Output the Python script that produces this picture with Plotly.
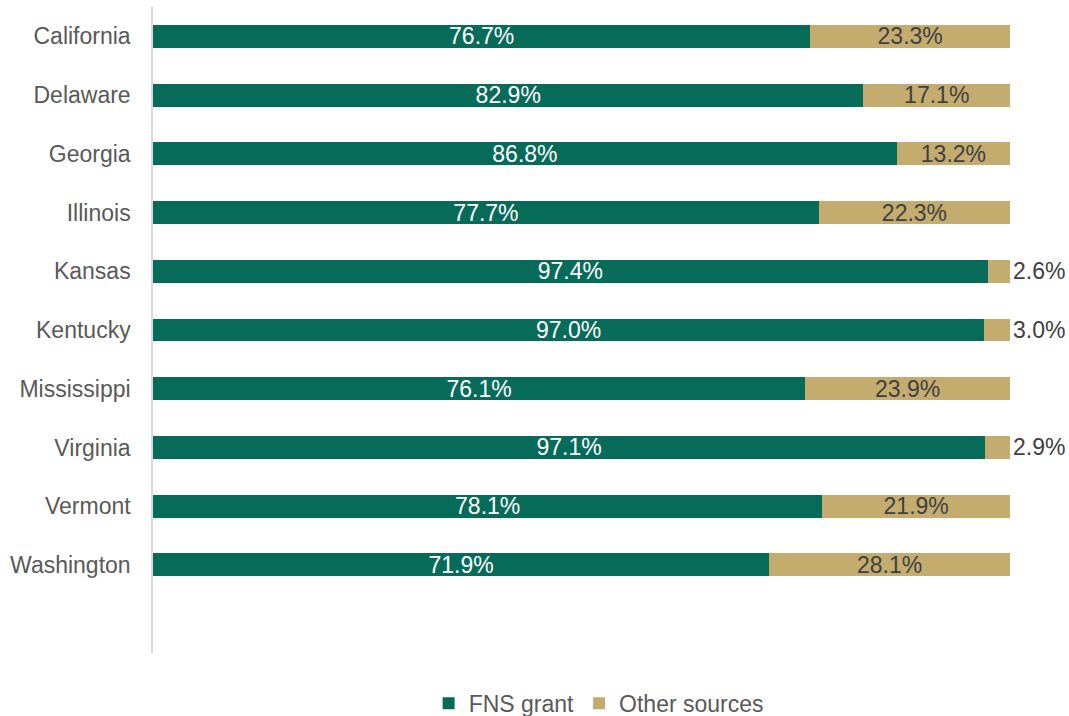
import plotly.graph_objects as go

states = ["California", "Delaware", "Georgia", "Illinois", "Kansas",
          "Kentucky", "Mississippi", "Virginia", "Vermont", "Washington"]
fns_grant = [76.7, 82.9, 86.8, 77.7, 97.4, 97.0, 76.1, 97.1, 78.1, 71.9]
other_sources = [23.3, 17.1, 13.2, 22.3, 2.6, 3.0, 23.9, 2.9, 21.9, 28.1]

GREEN = "#076B5A"
TAN = "#C4AC6F"
GRAY_TEXT = "#595959"
FONT = "Liberation Sans, Arial, sans-serif"
SIZE = 23

pos = list(range(len(states)))

fig = go.Figure()
fig.add_trace(go.Bar(
    y=pos, x=fns_grant, orientation="h", name="FNS grant",
    marker=dict(color=GREEN, line=dict(width=0)),
    width=0.39,
    text=[f"{v:.1f}%" for v in fns_grant],
    textposition="inside", insidetextanchor="middle",
    textfont=dict(color="white", size=SIZE, family=FONT),
    constraintext="none",
))
fig.add_trace(go.Bar(
    y=pos, x=other_sources, orientation="h", name="Other sources",
    marker=dict(color=TAN, line=dict(width=0)),
    width=0.39,
    text=[f"{v:.1f}%" for v in other_sources],
    textposition=["outside" if v < 5 else "inside" for v in other_sources],
    insidetextanchor="middle",
    textfont=dict(color="#404040", size=SIZE, family=FONT),
    constraintext="none",
    cliponaxis=False,
))

fig.update_layout(
    barmode="stack",
    width=1069, height=716,
    margin=dict(l=153, r=59, t=7, b=63, autoexpand=False),
    paper_bgcolor="white", plot_bgcolor="white",
    font=dict(family=FONT, size=SIZE, color=GRAY_TEXT),
    showlegend=True,
    legend=dict(orientation="h", x=0.52, xanchor="center", y=-0.078, yanchor="middle",
                font=dict(size=SIZE, color=GRAY_TEXT, family=FONT),
                itemwidth=30, traceorder="normal"),
)
fig.update_xaxes(range=[0, 100], showgrid=False, showticklabels=False,
                 zeroline=False, showline=False, fixedrange=True)
fig.update_yaxes(range=[10.5, -0.5], tickmode="array", tickvals=pos, ticktext=states,
                 showgrid=False, zeroline=False, showline=True,
                 linecolor="#D9D9D9", linewidth=1.5, ticks="", ticklabelstandoff=16,
                 tickfont=dict(size=SIZE, color=GRAY_TEXT, family=FONT))

fig.write_html("out.html")
